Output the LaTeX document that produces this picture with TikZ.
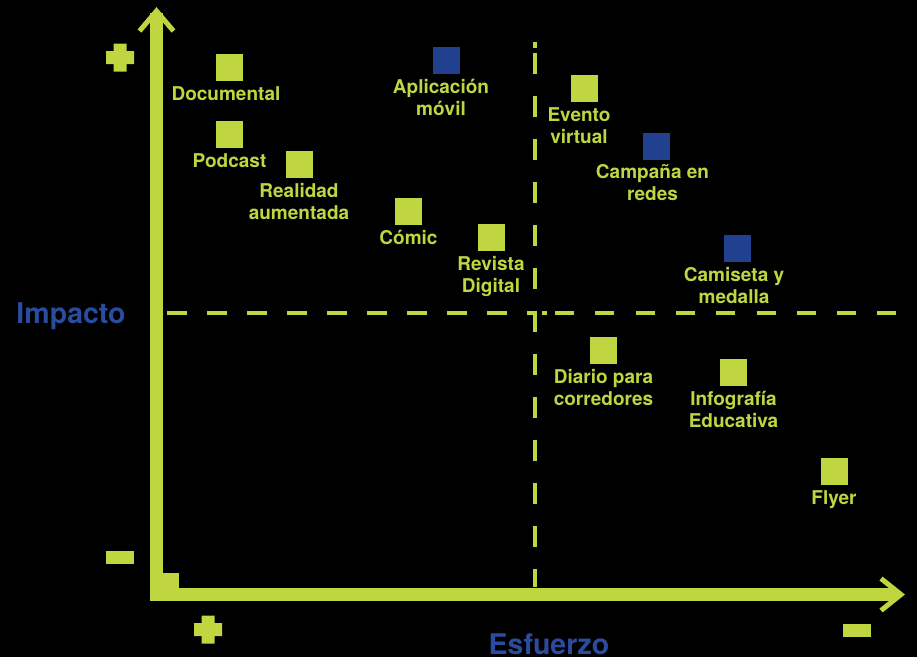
\documentclass[tikz,border=0pt]{standalone}
\usepackage{fontspec}
\setmainfont{TeX Gyre Heros}
\definecolor{chartgreen}{HTML}{BFD641}
\definecolor{chartblue}{HTML}{21408F}
\definecolor{titleblue}{HTML}{2A4C9F}

\tikzset{
  square/.style={fill=chartgreen, minimum size=27pt, inner sep=0pt, label distance=0pt},
  bluesquare/.style={square, fill=chartblue},
  itemlabel/.style={text=chartgreen, font=\fontsize{19}{22}\selectfont\bfseries,
    align=center, inner sep=0pt, yshift=-5pt, execute at begin node={\rule{0pt}{14.5pt}}},
  axislabel/.style={text=titleblue, font=\fontsize{28.5}{32}\selectfont\bfseries, inner sep=0pt, anchor=base},
  axis/.style={draw=chartgreen, line width=13.5pt, line join=miter},
  tip/.style={draw=chartgreen, line width=5pt, line join=miter},
  guide/.style={draw=chartgreen, line width=3.5pt},
  plussign/.pic={\fill[chartgreen] (-14,-6.5) rectangle (14,6.5) (-6.5,-14) rectangle (6.5,14);},
  minussign/.pic={\fill[chartgreen] (-14,-6.5) rectangle (14,6.5);}
}

\begin{document}
\begin{tikzpicture}[x=1pt, y=-1pt]
  \path[use as bounding box, fill=black] (0,0) rectangle (917,657);

  % axes
  \coordinate (corner) at (156.5,594.5);
  \coordinate (ytop)   at (156.5, 13.0);
  \coordinate (xend)   at (897.0,594.5);

  \draw[axis] (ytop) -- (corner) -- (xend);
  \draw[tip] (ytop) ++(-17,18) -- ++(17,-20) -- ++(17,20);
  \draw[tip] (xend) ++(-16,-16) -- ++(20,16) -- ++(-20,16);
  \node[square] (origin) at (165.5,586.5) {};

  % quadrant lines
  \coordinate (vtop)   at (535, 42);
  \coordinate (vstart) at (535, 53);
  \coordinate (vbot)   at (535,587);
  \coordinate (hleft)  at (167,313);
  \coordinate (hmid)   at (535,313);
  \coordinate (hstub)  at (542,313);
  \coordinate (hright) at (555,313);
  \coordinate (hend)   at (917,313);

  \draw[guide] (vtop) -- ++(0,6);
  \draw[guide, dash pattern=on 21pt off 22pt] (vstart) -- (vbot);
  \draw[guide, dash pattern=on 20pt off 20pt] (hleft) -- (hmid);
  \draw[guide] (hstub) -- ++(5,0);
  \draw[guide, dash pattern=on 19pt off 21.3pt] (hright) -- (hend);

  % plus / minus marks
  \pic at (120.0, 57.5) {plussign};
  \pic at (120.0,557.0) {minussign};
  \pic at (208.0,629.5) {plussign};
  \pic at (856.5,630.0) {minussign};

  \node[axislabel] (impacto)  at ( 71,323) {Impacto};
  \node[axislabel] (esfuerzo) at (549,654) {Esfuerzo};

  % ideas
  \node[square] (documental) at (229.5, 67.5) [label={[itemlabel, xshift=-3.5pt]below:Documental}] {};
  \node[square] (podcast)    at (229.5,134.5) [label={[itemlabel]below:Podcast}] {};
  \node[square] (realidad)   at (299.0,164.5) [label={[itemlabel]below:Realidad\\aumentada}] {};
  \node[square] (comic)      at (408.5,211.5) [label={[itemlabel]below:Cómic}] {};
  \node[square] (revista)    at (491.0,237.5) [label={[itemlabel]below:Revista\\Digital}] {};
  \node[square] (evento)     at (584.0, 88.5) [label={[itemlabel, xshift=-5pt]below:Evento\\virtual}] {};
  \node[square] (diario)     at (603.5,350.5) [label={[itemlabel]below:Diario para\\corredores}] {};
  \node[square] (infografia) at (733.5,372.5) [label={[itemlabel]below:Infografía\\Educativa}] {};
  \node[square] (flyer)      at (834.0,471.0) [label={[itemlabel]below:Flyer}] {};

  \node[bluesquare] (app)      at (446.5, 60.0) [label={[itemlabel, xshift=-5.5pt]below:Aplicación\\móvil}] {};
  \node[bluesquare] (campana)  at (656.0,146.0) [label={[itemlabel, xshift=-3.5pt]below:Campaña en\\redes}] {};
  \node[bluesquare] (camiseta) at (737.0,248.5) [label={[itemlabel, xshift=-3pt]below:Camiseta y\\medalla}] {};
\end{tikzpicture}
\end{document}
